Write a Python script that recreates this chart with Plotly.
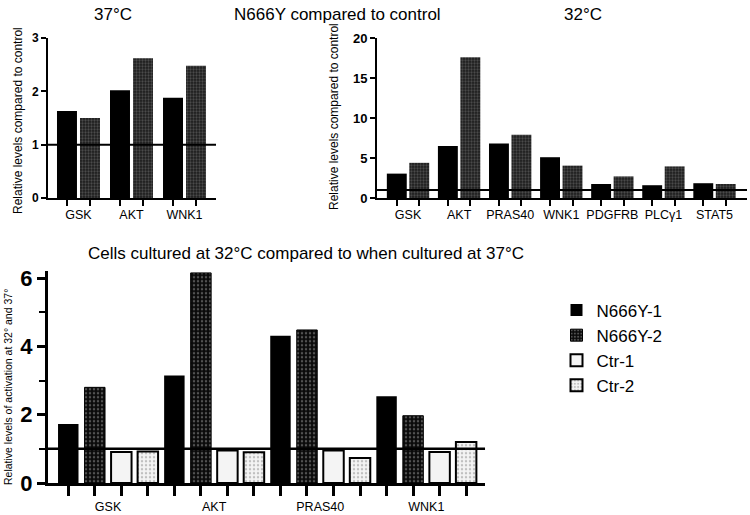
import plotly.graph_objects as go

# ---------------- data ----------------
tl_cats = ["GSK", "AKT", "WNK1"]
tl_n1 = [1.63, 2.02, 1.88]
tl_n2 = [1.50, 2.62, 2.48]

tr_cats = ["GSK", "AKT", "PRAS40", "WNK1", "PDGFRB", "PLCγ1", "STAT5"]
tr_n1 = [3.05, 6.5, 6.8, 5.1, 1.75, 1.6, 1.85]
tr_n2 = [4.4, 17.6, 7.9, 4.05, 2.7, 3.95, 1.75]

b_cats = ["GSK", "AKT", "PRAS40", "WNK1"]
b_n1 = [1.73, 3.15, 4.31, 2.54]
b_n2 = [2.80, 6.15, 4.48, 1.97]
b_c1 = [0.91, 0.95, 0.95, 0.91]
b_c2 = [0.92, 0.90, 0.73, 1.20]

series_names = ["N666Y-1", "N666Y-2", "Ctr-1", "Ctr-2"]

FONT = "Liberation Sans, Arial, Helvetica, sans-serif"


def pos(n_groups, n_series, i, step):
    return [g + (i - (n_series - 1) / 2) * step for g in range(n_groups)]


fig = go.Figure()

# top-left panel
tl_series = [tl_n1, tl_n2]
tl_styles = [
    dict(color="black", line=dict(width=0)),
    dict(color="#222", line=dict(width=0),
         pattern=dict(shape=".", fgcolor="#7a7a7a", bgcolor="#1c1c1c", size=3, solidity=0.45)),
]
for i, vals in enumerate(tl_series):
    fig.add_trace(go.Bar(x=pos(len(tl_cats), 2, i, 0.434), y=vals, width=0.377,
                         marker=tl_styles[i], showlegend=False, xaxis="x", yaxis="y"))

# top-right panel
tr_series = [tr_n1, tr_n2]
for i, vals in enumerate(tr_series):
    fig.add_trace(go.Bar(x=pos(len(tr_cats), 2, i, 0.44), y=vals, width=0.39,
                         marker=tl_styles[i], showlegend=False, xaxis="x2", yaxis="y2"))

# bottom panel
b_series = [b_n1, b_n2, b_c1, b_c2]
b_styles = [
    dict(color="black", line=dict(width=0)),
    dict(color="black", line=dict(width=1, color="black"),
         pattern=dict(shape=".", fgcolor="#9a9a9a", bgcolor="#0a0a0a", size=4, solidity=0.3)),
    dict(color="#f4f4f4", line=dict(width=2, color="black")),
    dict(color="#f4f4f4", line=dict(width=2, color="black"),
         pattern=dict(shape=".", fgcolor="#8c8c8c", bgcolor="#f4f4f4", size=4, solidity=0.3)),
]
for i, vals in enumerate(b_series):
    fig.add_trace(go.Bar(x=pos(len(b_cats), 4, i, 0.25), y=vals, width=0.193,
                         marker=b_styles[i], name=series_names[i], showlegend=True,
                         xaxis="x3", yaxis="y3"))

tick_font_small = dict(family=FONT, size=12.5, color="black")

# bar-centre tick positions
tl_ticks = pos(len(tl_cats), 2, 0, 0.434) + pos(len(tl_cats), 2, 1, 0.434)
tr_ticks = pos(len(tr_cats), 2, 0, 0.44) + pos(len(tr_cats), 2, 1, 0.44)
b_ticks = sum((pos(len(b_cats), 4, i, 0.25) for i in range(4)), [])

fig.update_layout(
    width=750, height=515,
    margin=dict(l=0, r=0, t=0, b=0, pad=0, autoexpand=False),
    paper_bgcolor="white", plot_bgcolor="white",
    barmode="overlay",
    font=dict(family=FONT, color="black"),
    xaxis=dict(domain=[0.064, 0.288], anchor="y", range=[-0.575, 2.594], automargin=False,
               tickmode="array", tickvals=list(range(len(tl_cats))), ticktext=tl_cats,
               ticks="outside", ticklen=4, tickcolor="rgba(0,0,0,0)",
               tickfont=tick_font_small, showline=True, linecolor="black", linewidth=2,
               showgrid=False, zeroline=False,
               minor=dict(tickmode="array", tickvals=tl_ticks, ticks="outside",
                          ticklen=6, tickwidth=2, tickcolor="black")),
    yaxis=dict(domain=[0.6155, 0.9262], anchor="x", range=[0, 3], dtick=1, automargin=False,
               ticks="outside", ticklen=5, tickwidth=2, tickcolor="black",
               tickfont=dict(family=FONT, size=12, color="black", weight="bold"),
               showline=True, linecolor="black", linewidth=2, showgrid=False, zeroline=False),
    xaxis2=dict(domain=[0.5027, 0.996], anchor="y2", range=[-0.607, 6.636], automargin=False,
                tickmode="array", tickvals=list(range(len(tr_cats))), ticktext=tr_cats,
                ticks="outside", ticklen=4, tickcolor="rgba(0,0,0,0)",
                tickfont=tick_font_small, showline=True, linecolor="black", linewidth=2,
                showgrid=False, zeroline=False,
                minor=dict(tickmode="array", tickvals=tr_ticks, ticks="outside",
                           ticklen=6, tickwidth=2, tickcolor="black")),
    yaxis2=dict(domain=[0.6155, 0.9262], anchor="x2", range=[0, 20], dtick=5, automargin=False,
                ticks="outside", ticklen=5, tickwidth=2, tickcolor="black",
                tickfont=dict(family=FONT, size=13, color="black", weight="bold"),
                showline=True, linecolor="black", linewidth=2, showgrid=False, zeroline=False),
    xaxis3=dict(domain=[0.064, 0.6467], anchor="y3", range=[-0.566, 3.553], automargin=False,
                tickmode="array", tickvals=list(range(len(b_cats))), ticktext=b_cats,
                ticks="outside", ticklen=10, tickcolor="rgba(0,0,0,0)",
                tickfont=tick_font_small, showline=True, linecolor="black", linewidth=3,
                showgrid=False, zeroline=False,
                minor=dict(tickmode="array", tickvals=b_ticks, ticks="outside",
                           ticklen=10, tickwidth=3, tickcolor="black")),
    yaxis3=dict(domain=[0.0621, 0.4734], anchor="x3", range=[0, 6.2], dtick=2, automargin=False,
                ticks="outside", ticklen=8, tickwidth=3, tickcolor="black",
                tickfont=dict(family=FONT, size=22, color="black", weight="bold"),
                showline=True, linecolor="black", linewidth=3, showgrid=False, zeroline=False,
                minor=dict(dtick=1, ticks="outside", ticklen=6, tickwidth=2, tickcolor="black")),
    legend=dict(x=0.742, y=0.432, xanchor="left", yanchor="top",
                font=dict(family=FONT, size=17, color="black"),
                bgcolor="rgba(0,0,0,0)", traceorder="normal", itemwidth=30),
)

# reference lines at 1
for xr, yr, w in [("x domain", "y", 2), ("x2 domain", "y2", 2), ("x3 domain", "y3", 2.5)]:
    fig.add_shape(type="line", xref=xr, yref=yr, x0=0, x1=1, y0=1, y1=1,
                  line=dict(color="black", width=w), layer="above")

# titles and axis titles
ann = [
    dict(text="37°C", x=113, y=14, size=17, angle=0),
    dict(text="N666Y compared to control", x=337, y=14, size=17, angle=0),
    dict(text="32°C", x=583, y=14, size=17, angle=0),
    dict(text="Cells cultured at 32°C compared to when cultured at 37°C", x=306, y=253, size=17, angle=0),
    dict(text="Relative levels compared to control", x=18, y=121, size=12, angle=-90),
    dict(text="Relative levels compared to control", x=334, y=117, size=12, angle=-90),
    dict(text="Relative levels of activation at 32° and 37°", x=8, y=387, size=10.5, angle=-90),
]
for a in ann:
    fig.add_annotation(text=a["text"], x=a["x"] / 750, y=1 - a["y"] / 515,
                       xref="paper", yref="paper", showarrow=False,
                       xanchor="center", yanchor="middle", textangle=a["angle"],
                       font=dict(family=FONT, size=a["size"], color="black"))

fig.write_html("out.html", config={"displayModeBar": False},
               post_script="document.body.style.margin='0';document.body.style.overflow='hidden';")
